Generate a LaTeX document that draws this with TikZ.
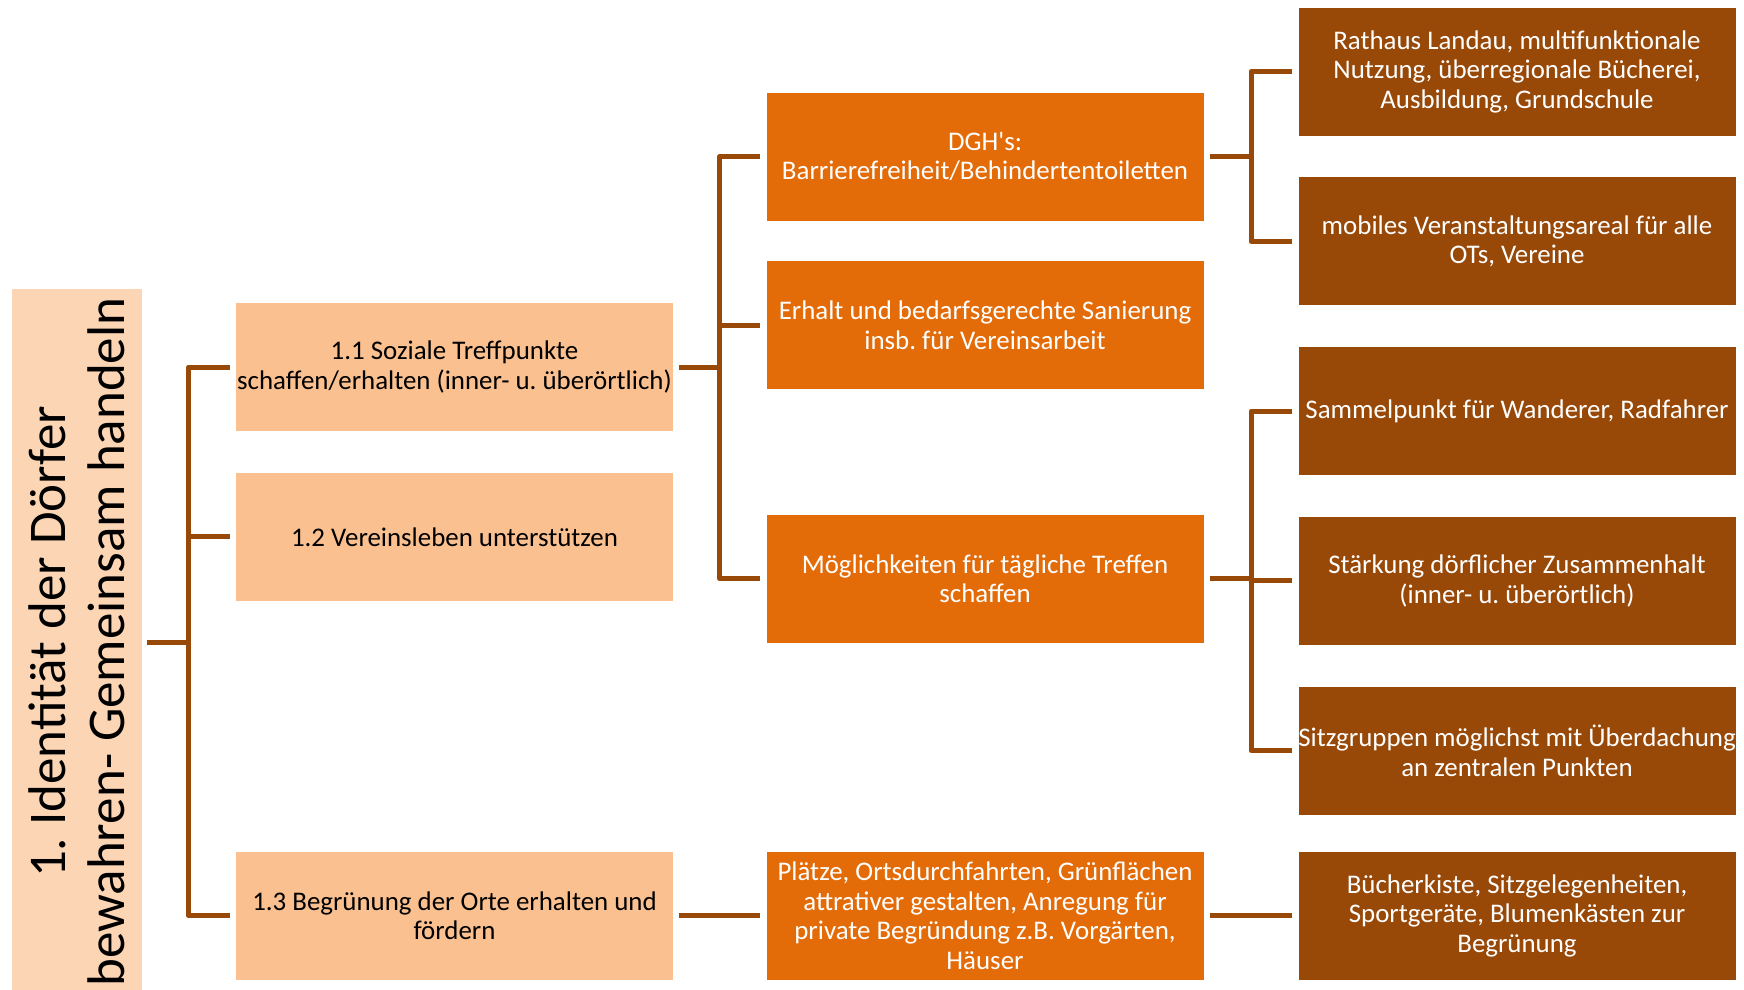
\documentclass[tikz,border=0pt]{standalone}
\usepackage{fontspec}
\setmainfont{Carlito}
\usetikzlibrary{positioning, calc}
\frenchspacing

\definecolor{rootfill}{HTML}{FCD5B4}
\definecolor{goalfill}{HTML}{FAC090}
\definecolor{measfill}{HTML}{E36C09}
\definecolor{projfill}{HTML}{984807}
\definecolor{linebrown}{HTML}{984807}

\begin{document}
\begin{tikzpicture}[x=1pt, y=-1pt,
        rootbox/.style={rotate=90, fill=rootfill, minimum width=706pt, minimum height=130pt, inner sep=0pt, align=center, font=\fontsize{53}{59}\selectfont},
        goal/.style={fill=goalfill, draw=white, line width=0.8pt, minimum width=438pt, minimum height=129pt, inner sep=0pt, align=center, font=\fontsize{26.9}{29.5}\selectfont},
        measure/.style={goal, fill=measfill, text=white},
        project/.style={goal, fill=projfill, text=white},
        line/.style={draw=linebrown, line width=5pt, line join=round}
    ]
        \useasboundingbox (0,0) rectangle (1744,989);

        % Root
        \node[rootbox] (root) at (76.5,642) {1. Identität der Dörfer\\bewahren- Gemeinsam handeln};

        % Goals
        \node[goal] (n11) at (454.5,367) {1.1 Soziale Treffpunkte\\schaffen/erhalten (inner- u. überörtlich)};
        \node[goal, below=40pt of n11] (n12) {1.2 Vereinsleben unterstützen};
        \node[goal] (n13) at (454.5,915.5) {1.3 Begrünung der Orte erhalten und\\fördern};

        % Measures
        \node[measure] (m1) at (985,156.5) {DGH\textquotesingle s:\\Barrierefreiheit/Behindertentoiletten};
        \node[measure, below=39pt of m1] (m2) {Erhalt und bedarfsgerechte Sanierung\\insb. für Vereinsarbeit};
        \node[measure] (m3) at (985,578.5) {Möglichkeiten für tägliche Treffen\\schaffen};
        \node[measure] (m4) at (985,915.5) {Plätze, Ortsdurchfahrten, Grünflächen\\attrativer gestalten, Anregung für\\private Begründung z.B. Vorgärten,\\Häuser};

        % Projects
        \node[project] (p1) at (1517,71.5) {Rathaus Landau, multifunktionale\\Nutzung, überregionale Bücherei,\\Ausbildung, Grundschule};
        \node[project, below=40pt of p1] (p2) {mobiles Veranstaltungsareal für alle\\OTs, Vereine};
        \node[project, below=40pt of p2] (p3) {Sammelpunkt für Wanderer, Radfahrer};
        \node[project, below=40pt of p3] (p4) {Stärkung dörflicher Zusammenhalt\\(inner- u. überörtlich)};
        \node[project, below=40pt of p4] (p5) {Sitzgruppen möglichst mit Überdachung\\an zentralen Punkten};
        \node[project] (p6) at (1517,915.5) {Bücherkiste, Sitzgelegenheiten,\\Sportgeräte, Blumenkästen zur\\Begrünung};

        % Trunks
        \coordinate (t0) at ($(root.south)!.5!(n11.west)$);
        \coordinate (t1) at ($(n11.east)!.5!(m1.west)$);
        \coordinate (t2) at ($(m1.east)!.5!(p1.west)$);
        \coordinate (t3) at ($(m3.east)!.5!(p3.west)$);

        \foreach \c in {n11,n12,n13}
            \draw[line] ([xshift=5.5pt]root.south) -- (root.south -| t0) |- ([xshift=-5.5pt]\c.west);
        \foreach \c in {m1,m2,m3}
            \draw[line] ([xshift=5.5pt]n11.east) -- (n11.east -| t1) |- ([xshift=-5.5pt]\c.west);
        \foreach \c in {p1,p2}
            \draw[line] ([xshift=5.5pt]m1.east) -- (m1.east -| t2) |- ([xshift=-5.5pt]\c.west);
        \foreach \c in {p3,p4,p5}
            \draw[line] ([xshift=5.5pt]m3.east) -- (m3.east -| t3) |- ([xshift=-5.5pt]\c.west);

        \draw[line] ([xshift=5.5pt]n13.east) -- ([xshift=-5.5pt]m4.west);
        \draw[line] ([xshift=5.5pt]m4.east) -- ([xshift=-5.5pt]p6.west);
    \end{tikzpicture}
\end{document}
